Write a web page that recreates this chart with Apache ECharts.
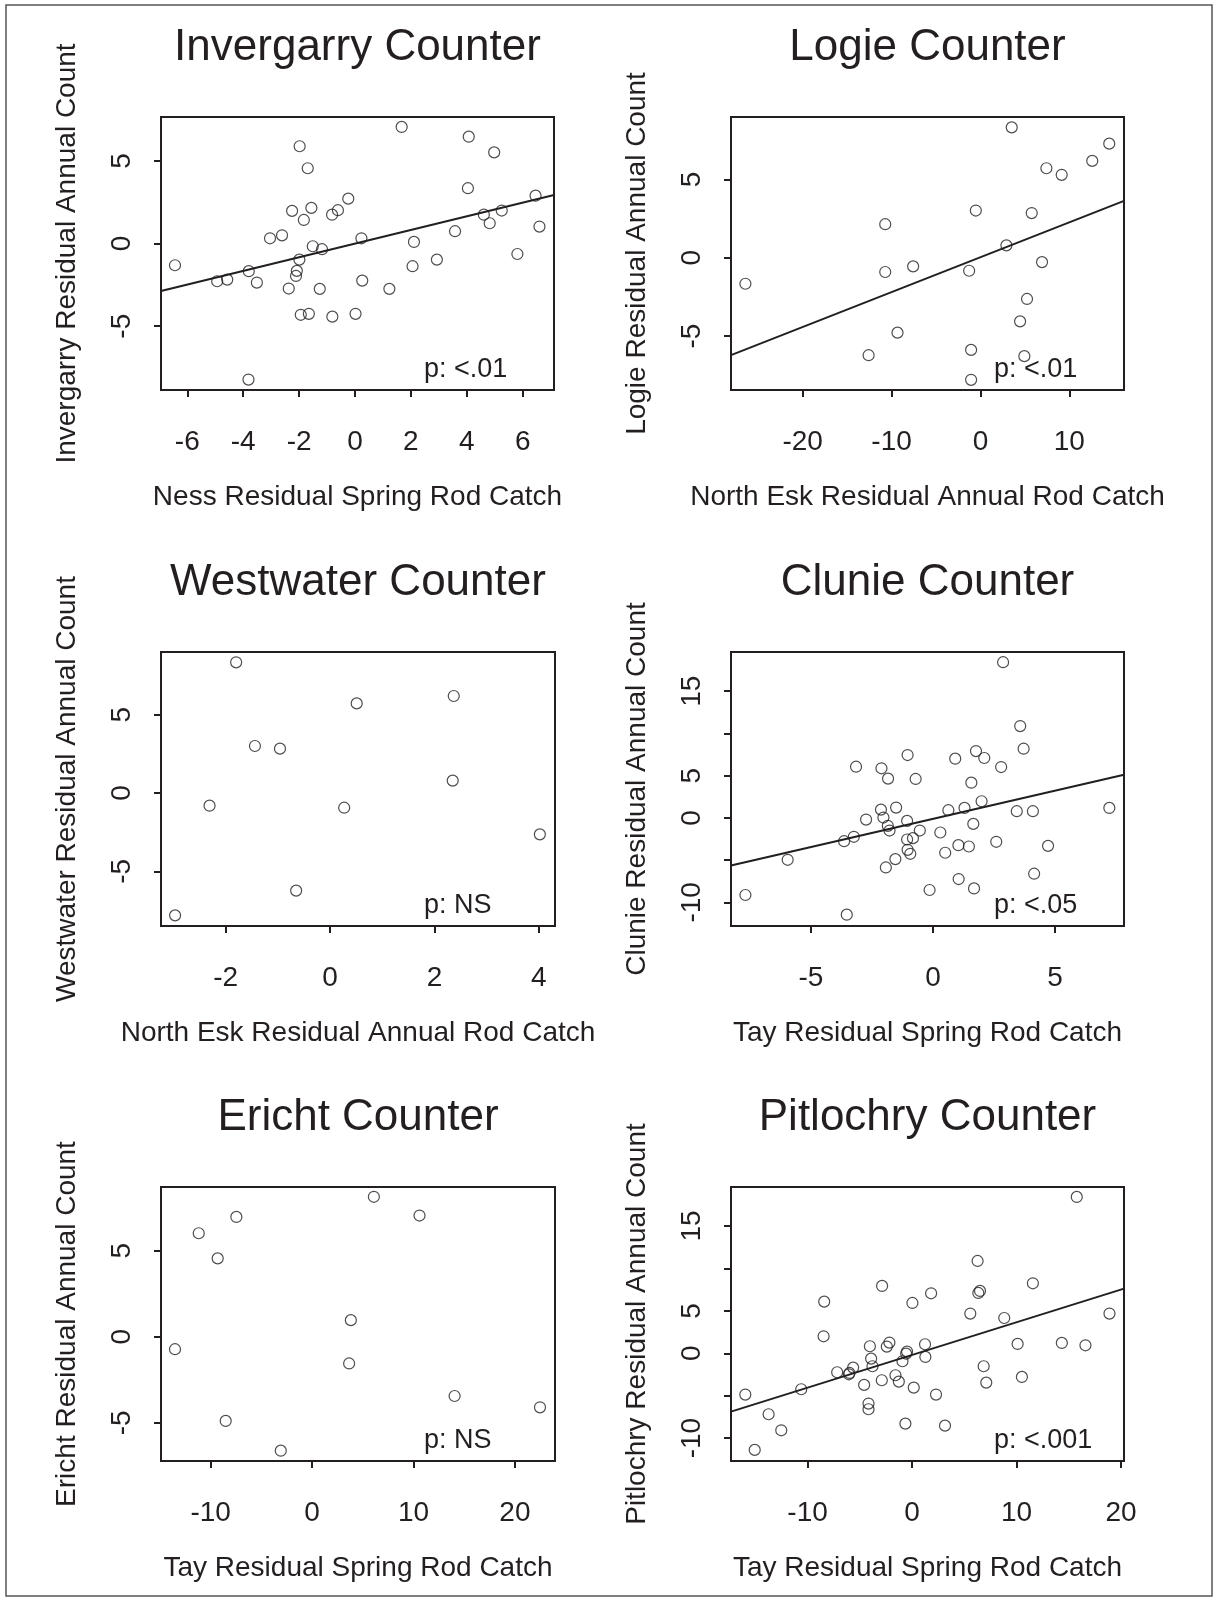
<!DOCTYPE html>
<html>
<head>
<meta charset="utf-8">
<title>Counter residuals</title>
<script src="https://cdn.jsdelivr.net/npm/echarts@6/dist/echarts.min.js"></script>
<style>
  html, body { margin: 0; padding: 0; background: #fff; }
  #chart { width: 1214px; height: 1601px; }
</style>
</head>
<body>
<div id="chart"></div>
<script>
'use strict';

/*-----data-----*/
var invergarryX = [-6.44, -4.93, -4.57, -3.80, -3.81, -3.51, -3.04, -2.61, -2.37, -2.25, -2.08, -2.11, -1.99, -1.98, -1.94, -1.83, -1.69, -1.65, -1.56, -1.51, -1.26, -1.18, -0.81, -0.82, -0.61, -0.24, 0.02, 0.23, 0.26, 1.23, 1.67, 2.06, 2.11, 2.93, 3.58, 4.04, 4.07, 4.61, 4.82, 4.98, 5.25, 5.81, 6.46, 6.60];
var invergarryY = [-1.31, -2.28, -2.18, -1.67, -8.23, -2.36, 0.32, 0.50, -2.72, 1.98, -1.65, -1.96, -0.97, 5.89, -4.31, 1.43, 4.56, -4.25, 2.16, -0.16, -2.74, -0.34, -4.42, 1.75, 2.02, 2.72, -4.25, 0.32, -2.24, -2.74, 7.06, -1.37, 0.10, -0.97, 0.75, 3.35, 6.47, 1.75, 1.23, 5.52, 2.00, -0.63, 2.90, 1.03];
var invergarryFit = [0.0, 0.413];   // intercept, slope

var logieX = [-26.44, -12.58, -10.71, -10.71, -9.33, -7.57, -1.27, -1.05, -1.05, -0.52, 2.92, 3.52, 4.46, 4.94, 5.24, 5.77, 6.93, 7.42, 9.14, 12.58, 14.49];
var logieY = [-1.66, -6.22, 2.14, -0.91, -4.78, -0.55, -0.83, -5.88, -7.79, 3.01, 0.79, 8.32, -4.06, -6.28, -2.63, 2.85, -0.28, 5.71, 5.29, 6.18, 7.28];
var logieFit = [0.03, 0.2227];

var westwaterX = [-2.97, -2.31, -1.80, -1.44, -0.96, -0.65, 0.27, 0.51, 2.35, 2.37, 4.02];
var westwaterY = [-7.81, -0.81, 8.34, 3.00, 2.83, -6.23, -0.94, 5.72, 0.79, 6.19, -2.64];

var clunieX = [-7.68, -5.95, -3.64, -3.53, -3.24, -3.15, -2.74, -2.11, -2.13, -2.03, -1.93, -1.84, -1.85, -1.78, -1.54, -1.51, -1.06, -1.06, -1.04, -1.04, -0.93, -0.82, -0.71, -0.54, -0.14, 0.30, 0.50, 0.63, 0.91, 1.04, 1.05, 1.29, 1.47, 1.57, 1.65, 1.68, 1.76, 1.99, 2.10, 2.59, 2.79, 2.87, 3.43, 3.57, 3.71, 4.09, 4.14, 4.71, 7.22];
var clunieY = [-9.13, -4.96, -2.76, -11.46, -2.24, 6.06, -0.20, 5.87, 0.98, 0.04, -5.87, 4.65, -0.94, -1.50, -4.88, 1.22, -0.35, -2.56, 7.44, -3.78, -4.25, -2.40, 4.61, -1.50, -8.54, -1.73, -4.13, 0.91, 7.01, -3.23, -7.24, 1.18, -3.39, 4.17, -0.71, -8.35, 7.91, 1.97, 7.09, -2.83, 6.02, 18.43, 0.79, 10.87, 8.19, 0.79, -6.61, -3.31, 1.18];
var clunieFit = [-0.11, 0.668];

var erichtX = [-13.52, -11.18, -9.31, -8.52, -7.47, -3.09, 3.65, 3.82, 6.09, 10.59, 14.05, 22.47];
var erichtY = [-0.72, 6.02, 4.56, -4.89, 6.97, -6.62, -1.55, 0.97, 8.14, 7.05, -3.44, -4.10];

var pitlochryX = [-15.96, -15.06, -13.73, -12.52, -10.61, -8.47, -8.41, -7.17, -6.05, -5.99, -5.64, -4.59, -4.17, -4.17, -4.04, -3.92, -3.79, -2.87, -2.90, -2.42, -2.17, -1.59, -1.27, -0.92, -0.64, -0.57, -0.48, 0.03, 0.16, 1.24, 1.27, 1.82, 2.29, 3.15, 5.57, 6.27, 6.34, 6.50, 6.85, 7.10, 8.82, 10.10, 10.51, 11.56, 14.33, 15.76, 16.59, 18.89];
var pitlochryY = [-4.87, -11.39, -7.19, -9.08, -4.24, 2.00, 6.09, -2.24, -2.48, -2.32, -1.69, -3.73, -5.93, -6.60, 0.83, -0.63, -1.53, 7.94, -3.18, 0.79, 1.26, -2.59, -3.34, -0.94, -8.29, -0.04, 0.20, 5.93, -4.05, 1.06, -0.43, 7.07, -4.87, -8.53, 4.68, 10.88, 7.11, 7.35, -1.53, -3.46, 4.16, 1.10, -2.79, 8.25, 1.22, 18.43, 0.94, 4.68];
var pitlochryFit = [-0.20, 0.3855];

/*-----tick labels-----*/
var invergarryXTicks = [-6, -4, -2, 0, 2, 4, 6];
var logieXTicks = [-20, -10, 0, 10];
var westwaterXTicks = [-2, 0, 2, 4];
var clunieXTicks = [-5, 0, 5];
var tayXTicks = [-10, 0, 10, 20];
var smallYTicks = [-5, 0, 5];
var bigYTicks = [-10, -5, 0, 5, 10, 15];
var bigYLabels = [-10, 0, 5, 15];

var font = '"Liberation Sans", Arial, Helvetica, sans-serif';
var ink = '#231f20';

var panels = [
  { title: 'Invergarry Counter', xName: 'Ness Residual Spring Rod Catch', yName: 'Invergarry Residual Annual Count',
    x: invergarryX, y: invergarryY, fit: invergarryFit, p: 'p: <.01',
    xRange: [-6.94, 7.12], yRange: [-8.86, 7.66], xTicks: invergarryXTicks, yTicks: smallYTicks, yLabels: smallYTicks,
    left: 161, top: 117, width: 393, height: 273 },
  { title: 'Logie Counter', xName: 'North Esk Residual Annual Rod Catch', yName: 'Logie Residual Annual Count',
    x: logieX, y: logieY, fit: logieFit, p: 'p: <.01',
    xRange: [-28.06, 16.15], yRange: [-8.44, 8.98], xTicks: logieXTicks, yTicks: smallYTicks, yLabels: smallYTicks,
    left: 731, top: 117, width: 393, height: 273 },
  { title: 'Westwater Counter', xName: 'North Esk Residual Annual Rod Catch', yName: 'Westwater Residual Annual Count',
    x: westwaterX, y: westwaterY, fit: null, p: 'p: NS',
    xRange: [-3.24, 4.31], yRange: [-8.49, 9.0], xTicks: westwaterXTicks, yTicks: smallYTicks, yLabels: smallYTicks,
    left: 161, top: 652, width: 394, height: 274 },
  { title: 'Clunie Counter', xName: 'Tay Residual Spring Rod Catch', yName: 'Clunie Residual Annual Count',
    x: clunieX, y: clunieY, fit: clunieFit, p: 'p: <.05',
    xRange: [-8.27, 7.82], yRange: [-12.8, 19.64], xTicks: clunieXTicks, yTicks: bigYTicks, yLabels: bigYLabels,
    left: 731, top: 652, width: 393, height: 274 },
  { title: 'Ericht Counter', xName: 'Tay Residual Spring Rod Catch', yName: 'Ericht Residual Annual Count',
    x: erichtX, y: erichtY, fit: null, p: 'p: NS',
    xRange: [-14.9, 23.95], yRange: [-7.22, 8.71], xTicks: tayXTicks, yTicks: smallYTicks, yLabels: smallYTicks,
    left: 161, top: 1187, width: 394, height: 274 },
  { title: 'Pitlochry Counter', xName: 'Tay Residual Spring Rod Catch', yName: 'Pitlochry Residual Annual Count',
    x: pitlochryX, y: pitlochryY, fit: pitlochryFit, p: 'p: <.001',
    xRange: [-17.33, 20.28], yRange: [-12.7, 19.6], xTicks: tayXTicks, yTicks: bigYTicks, yLabels: bigYLabels,
    left: 731, top: 1187, width: 393, height: 274 }
];

var grids = [], xAxes = [], yAxes = [], series = [];
var graphics = [
  { type: 'rect', shape: { x: 6, y: 5, width: 1206, height: 1591 },
    style: { fill: 'none', stroke: '#555', lineWidth: 1.5 }, silent: true }
];

function fmt(v) {
  return v < 0 ? '-' + Math.abs(v) : String(v);
}

panels.forEach(function (p, i) {
  grids.push({
    left: p.left, top: p.top, width: p.width, height: p.height,
    show: true, borderColor: ink, borderWidth: 2, backgroundColor: 'transparent'
  });

  xAxes.push({
    gridIndex: i, type: 'value', min: p.xRange[0], max: p.xRange[1],
    axisLine: { show: false, onZero: false },
    axisTick: { show: true, customValues: p.xTicks, length: 7, lineStyle: { color: ink, width: 2 } },
    axisLabel: { customValues: p.xTicks, formatter: fmt, margin: 38, fontSize: 28, color: ink, fontFamily: font },
    splitLine: { show: false },
    name: p.xName, nameLocation: 'middle', nameGap: 93,
    nameTextStyle: { fontSize: 28, color: ink, fontFamily: font }
  });

  yAxes.push({
    gridIndex: i, type: 'value', min: p.yRange[0], max: p.yRange[1],
    axisLine: { show: false, onZero: false },
    axisTick: { show: true, customValues: p.yTicks, length: 7, lineStyle: { color: ink, width: 2 } },
    axisLabel: { customValues: p.yLabels, formatter: fmt, rotate: 90, margin: 25, fontSize: 28, color: ink, fontFamily: font },
    splitLine: { show: false },
    name: p.yName, nameLocation: 'middle', nameRotate: 90, nameGap: 80,
    nameTextStyle: { fontSize: 28, color: ink, fontFamily: font }
  });

  series.push({
    type: 'scatter', xAxisIndex: i, yAxisIndex: i,
    data: p.x.map(function (v, k) { return [v, p.y[k]]; }),
    symbol: 'circle', symbolSize: 11,
    itemStyle: { color: 'rgba(0,0,0,0)', borderColor: ink, borderWidth: 1.2 },
    silent: true, z: 3
  });

  if (p.fit) {
    var a = p.fit[0], b = p.fit[1];
    series.push({
      type: 'line', xAxisIndex: i, yAxisIndex: i,
      data: [[p.xRange[0], a + b * p.xRange[0]], [p.xRange[1], a + b * p.xRange[1]]],
      symbol: 'none', lineStyle: { color: ink, width: 2 }, silent: true, z: 2
    });
  }

  // panel title and p value
  graphics.push({
    type: 'text', silent: true,
    style: { text: p.title, x: p.left + p.width / 2, y: p.top - 69, align: 'center', verticalAlign: 'middle',
      font: '44px ' + font, fill: ink }
  });
  graphics.push({
    type: 'text', silent: true,
    style: { text: p.p, x: p.left + 263, y: p.top + p.height - 20, align: 'left', verticalAlign: 'middle',
      font: '27px ' + font, fill: ink }
  });
});

var chart = echarts.init(document.getElementById('chart'));
chart.setOption({
  animation: false,
  backgroundColor: '#fff',
  grid: grids,
  xAxis: xAxes,
  yAxis: yAxes,
  series: series,
  graphic: graphics
});
</script>
</body>
</html>
